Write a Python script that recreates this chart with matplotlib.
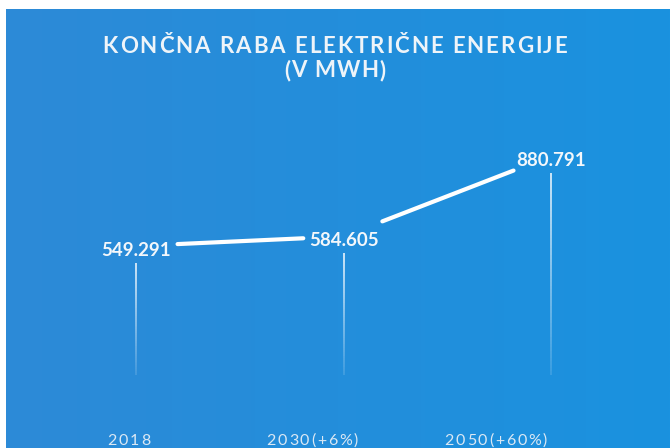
import numpy as np
import matplotlib.pyplot as plt
from matplotlib.collections import LineCollection
from matplotlib.colors import LinearSegmentedColormap, to_rgba

# Final electricity consumption (MWh)
years = ["2018", "2030(+6%)", "2050(+60%)"]
consumption_mwh = [549.291, 584.605, 880.791]
value_labels = ["549.291", "584.605", "880.791"]
title_lines = ["KONČNA RABA ELEKTRIČNE ENERGIJE", "(V MWH)"]

W, H = 670, 448
fig = plt.figure(figsize=(W / 100, H / 100), dpi=100, facecolor="white")
renderer = fig.canvas.get_renderer()


def char_widths(s, **kw):
    """Advance widths (px) of each character of s."""
    out = []
    for ch in s:
        t = fig.text(0, 0, ch.replace(" ", "\u00a0"), **kw)
        out.append(t.get_window_extent(renderer).width)
        t.remove()
    return out


def tracked_text(s, xc_px, y_px, tracking=0.0, width=None, **kw):
    """Draw s centred at xc_px with extra letter spacing, baseline at y_px
    (pixels measured from the top of the figure)."""
    ws = char_widths(s, **kw)
    if width is not None:
        tracking = (width - sum(ws)) / (len(s) - 1)
    total = sum(ws) + tracking * (len(s) - 1)
    xp = xc_px - total / 2
    for ch, w in zip(s, ws):
        if ch != " ":
            fig.text(xp / W, 1 - y_px / H, ch, ha="left", va="baseline", **kw)
        xp += w + tracking


# Blue panel with a soft horizontal gradient
bg = fig.add_axes([6 / W, 0, 1 - 6 / W, 1 - 9 / H])
bg.axis("off")
grad = np.linspace(0, 1, 256).reshape(1, -1)
cmap = LinearSegmentedColormap.from_list("panel", ["#2d8ad7", "#1a92df"])
bg.imshow(grad, aspect="auto", cmap=cmap, extent=[0, 1, 0, 1])
bg.set_xlim(0, 1)
bg.set_ylim(0, 1)

ax = fig.add_axes([0, 0, 1, 1])
ax.patch.set_alpha(0)
ax.axis("off")
ax.set_xlim(-0.655, 2.573)
ax.set_ylim(-194.7, 1455.4)

x = np.arange(len(years))
y = np.array(consumption_mwh)

# data units per pixel on the y axis
ylo, yhi = ax.get_ylim()
dpp = (yhi - ylo) / H

# Connecting segments, trimmed so they stop short of the value labels
for i in range(len(x) - 1):
    ax.annotate("", xy=(x[i + 1], y[i + 1]), xytext=(x[i], y[i]),
                arrowprops=dict(arrowstyle="-", lw=3.0, color="white",
                                shrinkA=30, shrinkB=29))

# Value labels
for xi, yi, lab in zip(x, y, value_labels):
    ax.text(xi, yi - 3 * dpp, lab, ha="center", va="center_baseline",
            fontsize=13.5, fontweight="bold", color="#f3f7fb",
            family="Lato")

# Fading drop lines below each point
base = 75
white = np.array(to_rgba("white"))
for xi, yi in zip(x, y):
    top = yi - 17 * dpp
    ys = np.linspace(top, base, 60)
    segs = [[(xi, ys[k]), (xi, ys[k + 1])] for k in range(len(ys) - 1)]
    alphas = np.linspace(0.9, 0.15, len(segs))
    cols = np.tile(white, (len(segs), 1))
    cols[:, 3] = alphas
    ax.add_collection(LineCollection(segs, colors=cols, linewidths=1.2))

# Category labels along the bottom
label_x = x * 0.884 - 0.034
for lx, lab in zip(label_x, years):
    xc = ax.transData.transform((lx, 0))[0]
    tracked_text(lab, xc, 445, tracking=1.8, fontsize=11.5,
                 color="#dbe8f4", family="Lato")

# Title, letter-spaced
title_style = dict(fontsize=16, fontweight="bold", color="#eef4f9",
                   family="Lato")
tracked_text(title_lines[0], W / 2, 53, width=465, **title_style)
tracked_text(title_lines[1], W / 2, 77, width=102, **title_style)

fig.savefig("out.png", dpi=100, facecolor=fig.get_facecolor())
